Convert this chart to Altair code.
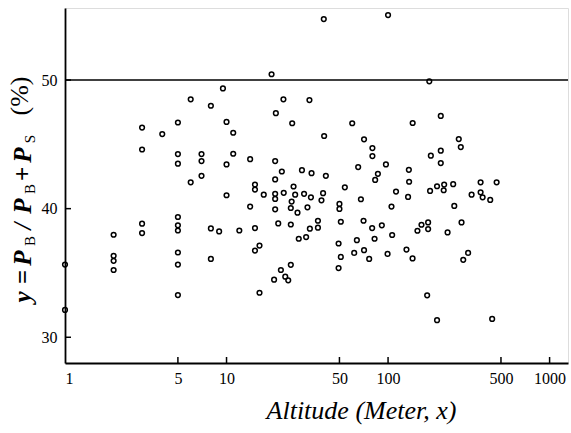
import altair as alt
import pandas as pd

# Altitude (m) and y (%)
altitude = [9.5, 6, 8, 3, 5, 10, 4, 11, 3, 5, 7, 11, 5, 7, 10, 14, 7,
            40, 100, 19, 22.5, 32.6, 20.2, 25.5, 60, 40.2, 71, 80, 80, 20, 22, 29.3, 33.6, 41.2,
            65.3, 97, 86.5, 83.2, 20,
            180, 212, 142, 274, 282, 184, 212, 212, 134.5,
            1, 1, 6, 15, 15, 10, 14, 2, 3, 3, 5, 5, 5, 8, 9, 12, 15, 2, 2, 2, 5, 5, 8, 15, 16, 5, 16,
            26, 54, 112, 17, 20, 20, 22.6, 26.6, 30.2, 33.3, 39.6, 38.7, 25.3, 67.9, 20, 25, 27.5,
            31.7, 50, 50, 105, 20.9, 25, 36.8, 36.8, 32.8, 51, 70.5, 91.5, 79.7, 28, 31.1, 64.1,
            82.5, 106, 49.4, 61.7, 71, 51, 76.4, 99.3, 25, 49.4, 21.7, 19.7, 23.1, 24.1,
            135, 133, 182, 201, 222.5, 221, 253, 374, 470, 329, 374, 385, 429, 257, 152, 161,
            177, 177, 233.6, 285, 130, 141.8, 313, 292, 174.6, 201, 441]
percent = [49.35, 48.5, 48.0, 46.3, 46.7, 46.74, 45.8, 45.9, 44.6, 44.24, 44.24, 44.27, 43.5,
           43.7, 43.44, 43.85, 42.55,
           54.74, 55.05, 50.45, 48.5, 48.44, 47.42, 46.64, 46.64, 45.65, 45.39, 44.71, 44.09,
           43.7, 42.89, 42.99, 42.76, 42.55, 43.23, 43.44, 42.71, 42.23, 42.27,
           49.9, 47.21, 46.66, 45.41, 44.79, 44.12, 44.51, 43.54, 43.02,
           35.65, 32.13, 42.05, 41.875, 41.48, 41.04, 40.16, 37.97, 38.83, 38.10, 39.35, 38.70,
           38.30, 38.46, 38.23, 38.30, 38.49, 36.33, 35.94, 35.23, 36.59, 35.65, 36.09, 36.74,
           37.13, 33.28, 33.46,
           41.72, 41.66, 41.33, 41.09, 41.15, 40.76, 41.23, 41.09, 41.15, 40.88, 41.20, 40.65,
           40.55, 40.73, 39.95, 40.05, 39.69, 40.10, 40.37, 39.98, 40.16, 38.85, 38.77, 39.06,
           38.52, 38.44, 38.98, 39.06, 38.70, 38.49, 37.66, 37.79, 37.55, 37.66, 37.95, 37.29,
           36.56, 36.77, 36.25, 36.09, 36.48, 35.63, 35.38, 35.23, 34.48, 34.71, 34.43,
           42.09, 40.91, 41.38, 41.74, 41.875, 41.43, 41.90, 42.05, 42.05, 41.09, 41.27, 40.88,
           40.68, 40.21, 38.28, 38.75, 38.93, 38.41, 38.15, 38.93, 36.82, 36.13, 36.56, 36.02,
           33.26, 31.33, 31.43]

x_tick_values = [1, 5, 10, 50, 100, 500, 1000]
x_inner_ticks = [5, 10, 50, 100, 500, 1000]
y_tick_values = [30, 40, 50]
reference_line = [50]

x_title = "Altitude (Meter, x)"
# y-axis title pieces (text, is_subscript, vertical centre in px from plot top)
label_parts = ["y", "=", "P", "B", "/", "P", "B", "+", "P", "S", "(%)"]
label_sub = [False, False, False, True, False, False, True, False, False, True, False]
label_pos = [289, 269, 250, 233, 218, 198, 181, 166, 147, 131, 88]

SERIF = "Liberation Serif"

df = pd.DataFrame({"alt": altitude, "pct": percent})
xscale = alt.Scale(type="log", domain=[1, 1300], nice=False)
yscale = alt.Scale(domain=[28, 55.6], nice=False, zero=False)

points = alt.Chart(df).mark_point(
    shape="circle", filled=False, size=22, strokeWidth=1.5, color="black", opacity=1
).encode(
    x=alt.X("alt:Q", scale=xscale, axis=alt.Axis(
        values=x_tick_values, format="d", ticks=False, grid=False,
        labelFont=SERIF, labelFontSize=16, labelColor="black", labelPadding=7,
        domainColor="black", domainWidth=1.8,
        title=x_title, titleFont=SERIF, titleFontSize=26, titleFontStyle="italic",
        titleFontWeight="normal", titleColor="black", titleX=296, titleY=47,
        titleAlign="center", titleBaseline="middle")),
    y=alt.Y("pct:Q", scale=yscale, axis=alt.Axis(
        values=y_tick_values, format="d", ticks=False, grid=False,
        labelFont=SERIF, labelFontSize=16, labelColor="black", labelPadding=8,
        domainColor="black", domainWidth=1.8, title=None)),
)

hline = alt.Chart(pd.DataFrame({"v": reference_line})).mark_rule(
    color="black", strokeWidth=1.6
).encode(y=alt.Y("v:Q", scale=yscale))

yticks = alt.Chart(pd.DataFrame({"v": y_tick_values})).mark_rule(
    color="black", strokeWidth=1.5
).encode(y=alt.Y("v:Q", scale=yscale), x=alt.value(0), x2=alt.value(6))

xticks = alt.Chart(pd.DataFrame({"v": x_inner_ticks})).mark_rule(
    color="black", strokeWidth=1.5
).encode(x=alt.X("v:Q", scale=xscale), y=alt.value(355), y2=alt.value(349))

layers = [points, hline, yticks, xticks]
for txt, sub, pos in zip(label_parts, label_sub, label_pos):
    if txt == "(%)":
        mk = alt.Chart(alt.Data(values=[{"a": 1}])).mark_text(
            text=txt, angle=270, font=SERIF, fontSize=26, fontWeight="normal",
            align="center", baseline="middle", color="black")
        xpos = -45
    elif sub:
        mk = alt.Chart(alt.Data(values=[{"a": 1}])).mark_text(
            text=txt, angle=270, font=SERIF, fontSize=15, fontWeight="normal",
            align="center", baseline="middle", color="black")
        xpos = -35
    else:
        mk = alt.Chart(alt.Data(values=[{"a": 1}])).mark_text(
            text=txt, angle=270, font=SERIF, fontSize=25, fontWeight="bold",
            fontStyle="italic", align="center", baseline="middle", color="black")
        xpos = -42
    layers.append(mk.encode(x=alt.value(xpos), y=alt.value(pos)))

chart = alt.layer(*layers).properties(
    width=503, height=355,
    autosize=alt.AutoSizeParams(type="none"),
    padding={"left": 65, "top": 8, "right": 3, "bottom": 70},
).configure_view(stroke=None).configure(background="white")

chart.save("out.html", embed_options={"renderer": "svg", "actions": False})
